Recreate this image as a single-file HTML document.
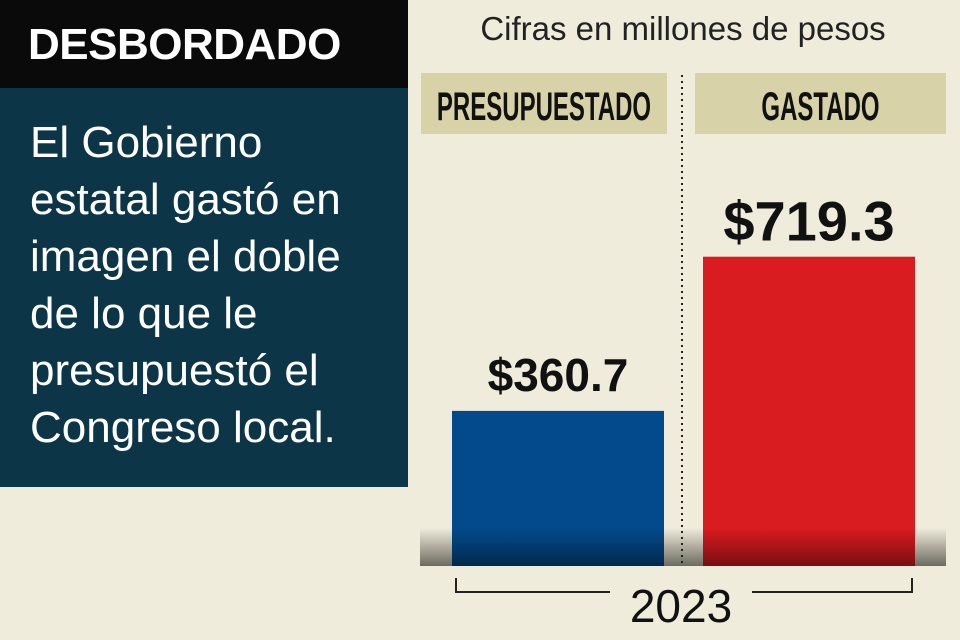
<!DOCTYPE html>
<html><head><meta charset="utf-8"><style>
body{margin:0;width:960px;height:640px;background:#f0ecdc;overflow:hidden;font-family:"Liberation Sans",sans-serif;position:relative}
.abs{position:absolute}
</style></head><body>
<div class="abs" style="left:0;top:0;width:408px;height:88px;background:#0a0a0a"></div>
<div class="abs" style="left:28px;top:20px;color:#fff;font-weight:bold;font-size:44px;letter-spacing:-0.5px">DESBORDADO</div>
<div class="abs" style="left:0;top:88px;width:408px;height:399px;background:#0c3547"></div>
<div class="abs" style="left:30px;top:114px;width:378px;color:#fff;font-size:44px;line-height:57px;white-space:nowrap">El Gobierno<br>estatal gastó en<br>imagen el doble<br>de lo que le<br>presupuestó el<br>Congreso local.</div>
<div class="abs" style="left:420px;top:10px;width:526px;text-align:center;font-size:33px;color:#222">Cifras en millones de pesos</div>
<svg class="abs" style="left:0;top:0" width="960" height="640">
<defs><linearGradient id="g" x1="0" y1="0" x2="0" y2="1"><stop offset="0" stop-color="#f0ecdc"/><stop offset="1" stop-color="#6d6a60"/></linearGradient>
<linearGradient id="sh" x1="0" y1="0" x2="0" y2="1"><stop offset="0" stop-color="#000" stop-opacity="0"/><stop offset="1" stop-color="#000" stop-opacity="0.45"/></linearGradient></defs>
<rect x="420" y="528" width="526" height="38" fill="url(#g)"/>
<line x1="682" y1="75" x2="682" y2="566" stroke="#222" stroke-width="2" stroke-dasharray="2,4"/>
<g id="bars"></g>
<path d="M456 578 V592 H610 M752 592 H912 V578" fill="none" stroke="#222" stroke-width="2"/>
<text x="681" y="622" text-anchor="middle" font-size="46" fill="#111" font-family="Liberation Sans">2023</text>
</svg>
<script>
const categories=["PRESUPUESTADO","GASTADO"];
const values=[360.7,719.3];
const labels=["$360.7","$719.3"];
const colors=["#034a8c","#d91c1f"];
const base=566, k=0.43;
const y=v=>base-v*k;
const boxX=[421,695], boxW=[246,251], barX=[452,703];
const g=document.getElementById('bars');const NS="http://www.w3.org/2000/svg";
categories.forEach((c,i)=>{
 const hb=document.createElementNS(NS,'rect');
 
 
 hb.setAttribute('x',boxX[i]);hb.setAttribute('y',73);hb.setAttribute('width',boxW[i]);hb.setAttribute('height',61);hb.setAttribute('fill','#d8d2a8');g.appendChild(hb);
 const cx=boxX[i]+boxW[i]/2;
 const ht=document.createElementNS(NS,'text');
 
 
 ht.setAttribute('x',cx);ht.setAttribute('y',120);ht.setAttribute('text-anchor','middle');ht.setAttribute('font-size','40');ht.setAttribute('font-weight','bold');ht.setAttribute('font-family','Liberation Sans');ht.setAttribute('transform','translate('+cx+',0) scale(0.6,1) translate('+(-cx)+',0)');ht.setAttribute('fill','#111');ht.textContent=c;g.appendChild(ht);
 const r=document.createElementNS(NS,'rect');
 
 
 r.setAttribute('x',barX[i]);r.setAttribute('y',y(values[i]));r.setAttribute('width',212);r.setAttribute('height',base-y(values[i]));r.setAttribute('fill',colors[i]);g.appendChild(r);
 const s=document.createElementNS(NS,'rect');
 
 
 s.setAttribute('x',barX[i]);s.setAttribute('y',528);s.setAttribute('width',212);s.setAttribute('height',38);s.setAttribute('fill','url(#sh)');g.appendChild(s);
 const t=document.createElementNS(NS,'text');
 
 
 t.setAttribute('x',barX[i]+106);t.setAttribute('y',y(values[i])-(i?16:20));t.setAttribute('text-anchor','middle');t.setAttribute('font-size',i?56:46);t.setAttribute('font-weight','bold');t.setAttribute('fill','#111');t.setAttribute('font-family','Liberation Sans');t.textContent=labels[i];g.appendChild(t);
});
</script>
</body></html>
